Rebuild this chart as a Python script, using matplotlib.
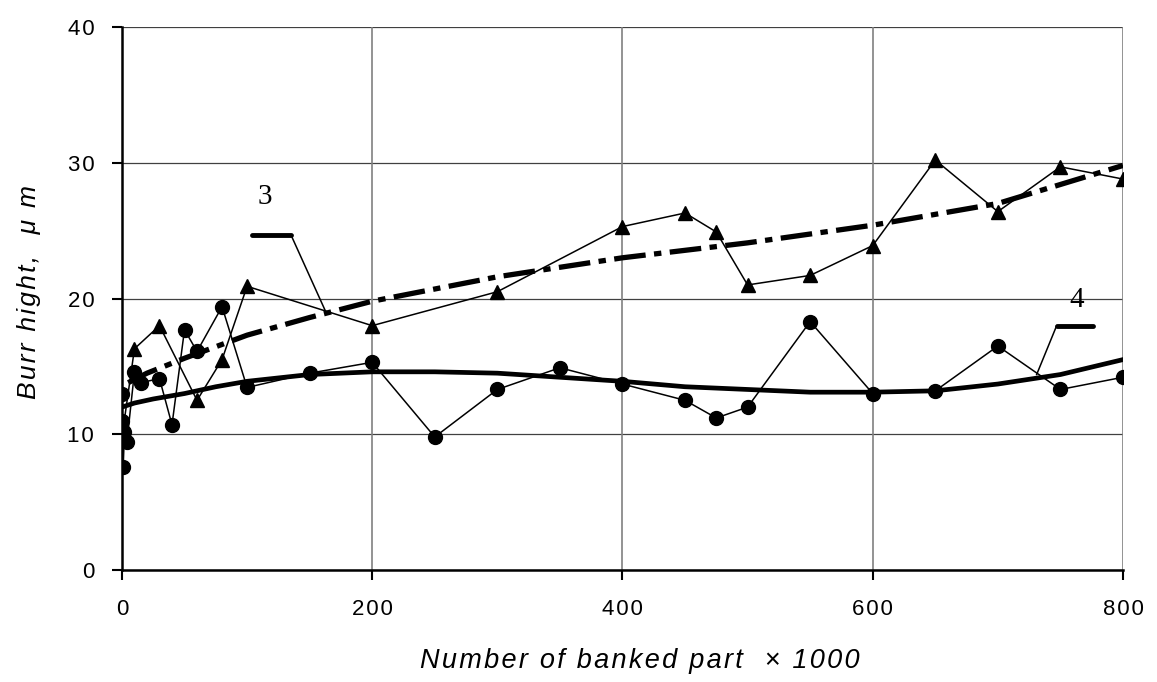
import matplotlib
matplotlib.use("Agg")
import matplotlib.pyplot as plt

# Series 3 (triangles)
x3 = [0, 10, 30, 60, 80, 100, 200, 300, 400, 450, 475, 500, 550, 600, 650, 700, 750, 800]
y3 = [9.8, 16.3, 18.0, 12.5, 15.5, 20.9, 18.0, 20.5, 25.3, 26.3, 24.9, 21.0, 21.7, 23.9, 30.2, 26.4, 29.7, 28.8]

# Series 4 (circles)
x4 = [0, 0, 1, 2, 4, 10, 15, 30, 40, 50, 60, 80, 100, 150, 200, 250, 300, 350, 400,
      450, 475, 500, 550, 600, 650, 700, 750, 800]
y4 = [13.0, 11.0, 7.6, 10.2, 9.45, 14.6, 13.8, 14.1, 10.7, 17.7, 16.1, 19.4, 13.45, 14.5, 15.3,
      9.8, 13.3, 14.9, 13.7, 12.5, 11.2, 12.0, 18.3, 13.0, 13.2, 16.5, 13.3, 14.2]

# Trend for series 3 (dash-dot)
xt3 = [5, 20, 50, 100, 150, 200, 300, 400, 500, 600, 700, 800]
yt3 = [13.8, 14.5, 15.6, 17.3, 18.6, 19.8, 21.6, 23.0, 24.1, 25.4, 27.0, 29.8]

# Trend for series 4 (solid)
xt4 = [0, 10, 25, 50, 75, 100, 150, 200, 250, 300, 350, 400, 450, 500, 550, 600, 650, 700, 750, 800]
yt4 = [12.0, 12.3, 12.6, 13.0, 13.5, 13.9, 14.4, 14.6, 14.6, 14.5, 14.2, 13.9, 13.5, 13.3, 13.1,
       13.1, 13.2, 13.7, 14.4, 15.5]

xticks = [0, 200, 400, 600, 800]
yticks = [0, 10, 20, 30, 40]
xlabel = "Number of banked part  \u00d7 1000"
ylabel = "Burr hight,  \u03bc m"


def spaced(s, sp):
    return sp.join(s)


W, H = 1157, 682
fig = plt.figure(figsize=(W / 100, H / 100), dpi=100)
ax = fig.add_axes([0.1054, 0.1642, 0.8652, 0.7962])

for yv in yticks:
    ax.axhline(yv, color="#404040", lw=0.9, zorder=0)
for xv in xticks:
    ax.axvline(xv, color="#808080", lw=1.2, zorder=0)

ax.plot(x3, y3, color="black", lw=1.1, marker="^", ms=10, zorder=3)
ax.plot(x4, y4, color="black", lw=1.1, marker="o", ms=10, zorder=3)
ax.plot(xt3, yt3, color="black", lw=3.8, dashes=(6, 1.6, 1.4, 1.6), zorder=4)
ax.plot(xt4, yt4, color="black", lw=3.4, zorder=4)

# Label 3
ax.plot([104, 135], [24.7, 24.7], color="black", lw=3.5, solid_capstyle="round", zorder=5)
ax.plot([135, 163], [24.7, 19.0], color="black", lw=1.1, zorder=5)
ax.text(114, 26.5, "3", fontsize=21, family="Liberation Serif", ha="center", va="bottom")
# Label 4
ax.plot([747, 776], [18.0, 18.0], color="black", lw=3.5, solid_capstyle="round", zorder=5)
ax.plot([747, 731], [18.0, 14.4], color="black", lw=1.1, zorder=5)
ax.text(763, 18.9, "4", fontsize=21, family="Liberation Serif", ha="center", va="bottom")

ax.set_xlim(0, 800)
ax.set_ylim(0, 40)
ax.set_xticks(xticks)
ax.set_yticks(yticks)
ax.set_xticklabels([spaced(str(v), "\u200a") for v in xticks])
ax.set_yticklabels([spaced(str(v), "\u200a") for v in yticks])
for s in ["top", "right"]:
    ax.spines[s].set_visible(False)
ax.spines["left"].set_linewidth(1.8)
ax.spines["bottom"].set_linewidth(1.8)
ax.tick_params(axis="both", direction="out", length=7, width=1.5, labelsize=16,
               labelfontfamily="Liberation Sans")
ax.tick_params(axis="x", pad=14)
ax.tick_params(axis="y", pad=13)

fig.text(420 / W, 1 - 668 / H, spaced(xlabel, "\u200a"), fontsize=19.5, style="italic",
         family="Liberation Sans", ha="left", va="baseline")
fig.text(29 / W, 1 - 292 / H, spaced(ylabel, "\u200a"), fontsize=19, style="italic",
         family="Liberation Sans", ha="center", va="center", rotation=90)

fig.savefig("out.png", dpi=100)
